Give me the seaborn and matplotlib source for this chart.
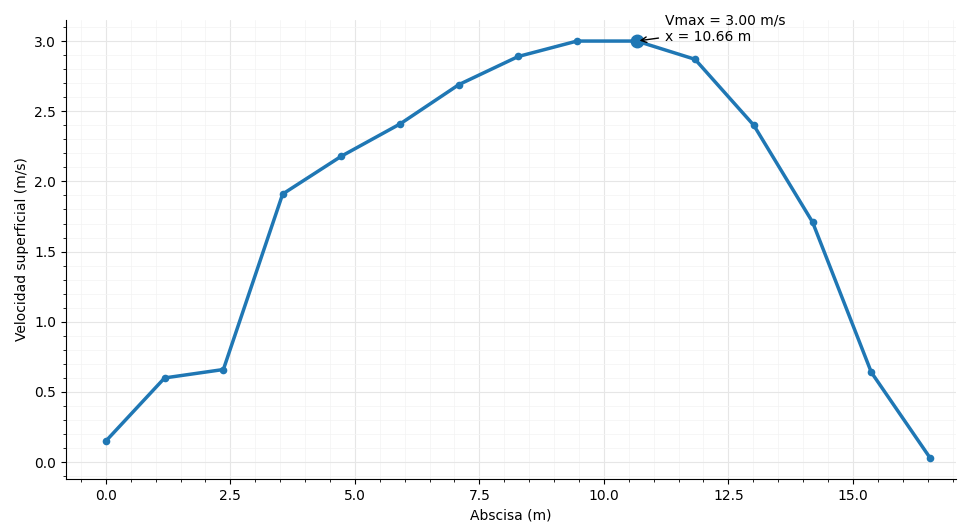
import numpy as np
import pandas as pd
import matplotlib
matplotlib.use("Agg")
import matplotlib.pyplot as plt
from matplotlib.ticker import MultipleLocator, AutoMinorLocator
import seaborn as sns

abscisa = [0.00, 1.18, 2.36, 3.55, 4.73, 5.91, 7.09, 8.28, 9.46, 10.66, 11.83, 13.01, 14.19, 15.37, 16.55]
velocidad = [0.15, 0.60, 0.66, 1.91, 2.18, 2.41, 2.69, 2.89, 3.00, 3.00, 2.87, 2.40, 1.71, 0.64, 0.03]

df = pd.DataFrame({"x": abscisa, "v": velocidad})

sns.set_style("ticks")
plt.rcParams['font.family'] = 'sans-serif'
plt.rcParams['font.sans-serif'] = ['DejaVu Sans']
plt.rcParams['text.color'] = 'black'
plt.rcParams['axes.labelcolor'] = 'black'
plt.rcParams['xtick.color'] = 'black'
plt.rcParams['ytick.color'] = 'black'
plt.rcParams['axes.edgecolor'] = 'black'

fig = plt.figure(figsize=(9.58, 5.22), dpi=100)
ax = fig.add_axes([66/958, 1-479/522, (956-66)/958, (479-20)/522])

color = "#1f77b4"
sns.lineplot(data=df, x="x", y="v", ax=ax, color=color, linewidth=2.5,
             marker="o", markersize=5.5, markeredgewidth=0)

vm = max(velocidad)
idx = [i for i, v in enumerate(velocidad) if v == vm][-1]
xm = abscisa[idx]
ax.plot([xm], [vm], "o", color=color, markersize=9)
ax.annotate(f"Vmax = {vm:.2f} m/s\nx = {xm:.2f} m", xy=(xm, vm),
            xytext=(20, 0), textcoords="offset points",
            fontsize=10, arrowprops=dict(arrowstyle="->", color="black", lw=1))

ax.set_xlim(-0.8, 17.07)
ax.set_ylim(-0.12, 3.15)
ax.xaxis.set_major_locator(MultipleLocator(2.5))
ax.xaxis.set_minor_locator(AutoMinorLocator(5))
ax.yaxis.set_major_locator(MultipleLocator(0.5))
ax.yaxis.set_minor_locator(AutoMinorLocator(5))
ax.grid(which="major", color="#e6e6e6", linewidth=0.8)
ax.grid(which="minor", color="#f3f3f3", linewidth=0.5)
ax.set_axisbelow(True)
sns.despine(ax=ax)
ax.set_xlabel("Abscisa (m)", fontsize=10)
ax.set_ylabel("Velocidad superficial (m/s)", fontsize=10)
ax.tick_params(labelsize=10)

fig.savefig("out.png", dpi=100)
